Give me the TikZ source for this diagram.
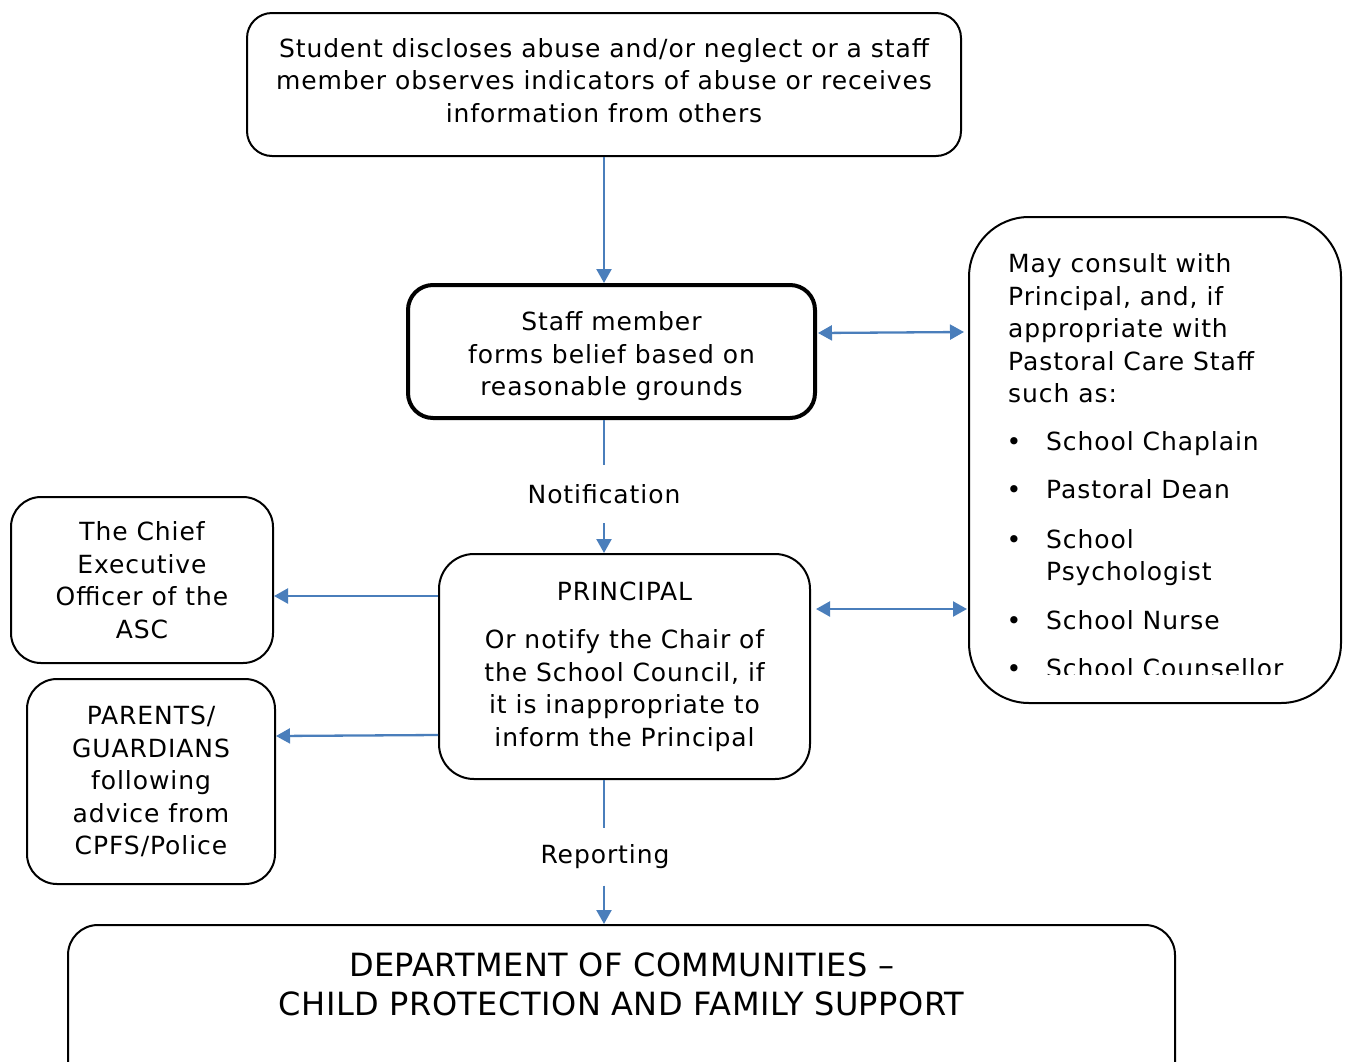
\documentclass[tikz,border=0pt]{standalone}
\usepackage{fontspec}
\setmainfont{DejaVu Sans}[LetterSpace=3.7]
\usetikzlibrary{arrows.meta}
\definecolor{arrowblue}{RGB}{74,126,187}
\tikzset{
  box/.style={draw=black, line width=2pt, rounded corners=25pt, inner sep=0pt},
  conn/.style={draw=arrowblue, line width=2.3pt, -{Triangle[length=14pt,width=15pt]}},
  dconn/.style={draw=arrowblue, line width=2.3pt, {Triangle[length=14pt,width=15pt]}-{Triangle[length=14pt,width=15pt]}},
  plainline/.style={draw=arrowblue, line width=2.3pt},
  txt/.style={font=\fontsize{25}{32.5}\selectfont, align=center, inner sep=0pt},
  lbl/.style={font=\fontsize{25}{32.5}\selectfont, inner sep=0pt},
}
\begin{document}
\begin{tikzpicture}[x=1pt,y=-1pt]
\useasboundingbox (0,0) rectangle (1347,1061);
\clip (0,0) rectangle (1347,1061);

% boxes
\node[box, minimum width=714pt, minimum height=143pt] (top) at (604,84.5) {};
\node[txt] (toptext) at (604,80.5)
  {Student discloses abuse and/or neglect or a staff\\member observes indicators of abuse or receives\\information from others};
\node[box, line width=4pt, minimum width=407pt, minimum height=133pt] (staff) at (611.5,351.5) {};
\node[txt] (stafftext) at (611.5,356.5)
  {Staff member\\forms belief based on\\reasonable grounds};
\node[box, rounded corners=60pt, minimum width=372pt, minimum height=486pt] (consult) at (1155,460) {};
\node[box, txt, rounded corners=35pt, minimum width=371pt, minimum height=225pt] (principal) at (624.5,666.5)
  {PRINCIPAL\\[16pt]Or notify the Chair of\\the School Council, if\\it is inappropriate to\\inform the Principal};
\node[box, txt, rounded corners=30pt, minimum width=262pt, minimum height=166pt] (ceo) at (142,580)
  {The Chief\\Executive\\Officer of the\\ASC};
\node[box, txt, rounded corners=30pt, minimum width=248pt, minimum height=205pt] (parents) at (151,781.5)
  {PARENTS/\\GUARDIANS\\following\\advice from\\CPFS/Police};
\node[box, rounded corners=30pt, minimum width=1107pt, minimum height=170pt] (dept) at (621.5,1010) {};
\node[inner sep=0pt, align=center, font=\fontsize{32}{39}\selectfont\addfontfeature{LetterSpace=1.5}] (depttext) at (621.5,984)
  {DEPARTMENT OF COMMUNITIES –\\CHILD PROTECTION AND FAMILY SUPPORT};

% text inside the consult box
\node[lbl, anchor=base west] (c1) at (1008,272) {May consult with};
\node[lbl, anchor=base west] (c2) at (1008,305) {Principal, and, if};
\node[lbl, anchor=base west] (c3) at (1008,337) {appropriate with};
\node[lbl, anchor=base west] (c4) at (1008,370) {Pastoral Care Staff};
\node[lbl, anchor=base west] (c5) at (1008,402) {such as:};
\node[lbl, anchor=base] (b1) at (1014,450) {•};
\node[lbl, anchor=base west] (i1) at (1046,450) {School Chaplain};
\node[lbl, anchor=base] (b2) at (1014,498) {•};
\node[lbl, anchor=base west] (i2) at (1046,498) {Pastoral Dean};
\node[lbl, anchor=base] (b3) at (1014,548) {•};
\node[lbl, anchor=base west] (i3) at (1046,548) {School};
\node[lbl, anchor=base west] (i3b) at (1046,580) {Psychologist};
\node[lbl, anchor=base] (b4) at (1014,629) {•};
\node[lbl, anchor=base west] (i4) at (1046,629) {School Nurse};
\begin{scope}
  \clip (990,600) rectangle (1330,674);
  \node[lbl, anchor=base] (b5) at (1014,677) {•};
  \node[lbl, anchor=base west] (i5) at (1046,677) {School Counsellor};
\end{scope}

% labels on connectors
\node[lbl, minimum height=58pt] (notif) at (604,494) {Notification};
\node[lbl, minimum height=57pt] (report) at (605,857) {Reporting};

% connectors
\draw[conn] (top.south -| 604,0) -- (staff.north -| 604,0);
\draw[plainline] (staff.south -| 604,0) -- (notif.north -| 604,0);
\draw[conn] (notif.south -| 604,0) -- (principal.north -| 604,0);
\draw[plainline] (principal.south -| 604,0) -- (report.north -| 604,0);
\draw[conn] (report.south -| 604,0) -- (dept.north -| 604,0);
\draw[dconn] ([xshift=1pt]staff.east |- 0,333) -- ([xshift=-4pt]consult.west |- 0,332);
\draw[dconn] ([xshift=5pt]principal.east |- 0,609) -- ([xshift=-1pt]consult.west |- 0,609);
\draw[conn] (principal.west |- 0,596) -- (ceo.east |- 0,596);
\draw[conn] (principal.west |- 0,735) -- (parents.east |- 0,736);
\end{tikzpicture}
\end{document}
